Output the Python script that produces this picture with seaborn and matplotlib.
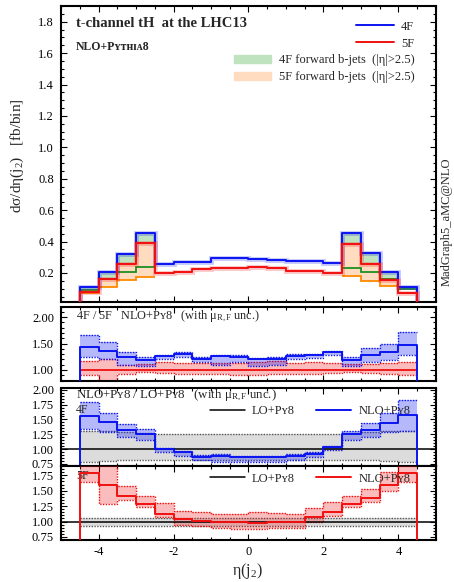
import numpy as np
import pandas as pd
import matplotlib
matplotlib.use("Agg")
import matplotlib.pyplot as plt
from matplotlib.ticker import MultipleLocator, FormatStrFormatter
from matplotlib.lines import Line2D
from matplotlib.patches import Patch
import seaborn as sns

# ---------------------------------------------------------------- data
edges = np.arange(-4.5, 4.5001, 0.5)
centers = 0.5 * (edges[:-1] + edges[1:])

# d sigma / d eta(j2) [fb/bin]
xs_4f = [0.109, 0.208, 0.321, 0.457, 0.255, 0.272, 0.268, 0.294, 0.294,
         0.289, 0.285, 0.277, 0.277, 0.266, 0.457, 0.326, 0.208, 0.113]
xs_5f = [0.079, 0.160, 0.257, 0.389, 0.200, 0.209, 0.223, 0.234, 0.234,
         0.240, 0.234, 0.215, 0.215, 0.202, 0.385, 0.255, 0.155, 0.075]
# contributions with forward b-jets (|eta| > 2.5), outer four bins on each side
fwd_4f_left = [0.093, 0.160, 0.204, 0.240]
fwd_4f_right = [0.234, 0.208, 0.159, 0.098]
fwd_5f_left = [0.070, 0.113, 0.155, 0.176]
fwd_5f_right = [0.181, 0.149, 0.117, 0.070]

# 4F / 5F ratio with scale uncertainties
r45 = [1.43, 1.36, 1.24, 1.18, 1.26, 1.30, 1.20, 1.26, 1.25,
       1.20, 1.21, 1.27, 1.28, 1.33, 1.18, 1.29, 1.34, 1.48]
r45_up = [1.67, 1.52, 1.34, 1.25, 1.28, 1.33, 1.24, 1.29, 1.28,
          1.23, 1.25, 1.31, 1.30, 1.36, 1.24, 1.42, 1.50, 1.71]
r45_dn = [1.24, 1.20, 1.10, 1.07, 1.20, 1.24, 1.15, 1.10, 1.15,
          1.08, 1.10, 1.20, 1.22, 1.28, 1.07, 1.15, 1.18, 1.28]
r5_up = [1.16, 1.20, 1.10, 1.12, 1.15, 1.14, 1.14, 1.14, 1.14,
         1.15, 1.16, 1.14, 1.15, 1.14, 1.12, 1.12, 1.14, 1.15]
r5_dn = [0.91, 0.78, 0.93, 0.96, 0.94, 0.93, 0.93, 0.92, 0.91,
         0.91, 0.92, 0.92, 0.93, 0.94, 0.96, 0.94, 0.92, 0.91]

# NLO+Py8 / LO+Py8, 4F
k4 = [1.555, 1.45, 1.325, 1.26, 1.00, 0.95, 0.875, 0.89, 0.875,
      0.875, 0.875, 0.89, 0.92, 1.04, 1.25, 1.33, 1.44, 1.58]
k4_up = [1.80, 1.61, 1.42, 1.34, 1.02, 0.97, 0.90, 0.91, 0.89,
         0.89, 0.89, 0.91, 0.95, 1.06, 1.31, 1.44, 1.61, 1.82]
k4_dn = [1.34, 1.29, 1.20, 1.15, 0.96, 0.89, 0.81, 0.79, 0.79,
         0.79, 0.79, 0.81, 0.86, 0.99, 1.15, 1.20, 1.29, 1.31]
lo4_up = [1.31, 1.30, 1.29, 1.27, 1.26, 1.26, 1.25, 1.25, 1.25,
          1.25, 1.25, 1.25, 1.26, 1.26, 1.27, 1.29, 1.30, 1.31]
lo4_dn = [0.79, 0.80, 0.81, 0.81, 0.82, 0.82, 0.82, 0.82, 0.82,
          0.82, 0.82, 0.82, 0.82, 0.82, 0.81, 0.81, 0.80, 0.79]

# NLO+Py8 / LO+Py8, 5F
k5 = [1.79, 1.60, 1.41, 1.28, 1.12, 1.04, 1.01, 0.985, 0.985,
      0.97, 0.985, 0.985, 1.08, 1.16, 1.28, 1.38, 1.60, 1.79]
k5_up = [2.00, 2.00, 1.57, 1.42, 1.30, 1.17, 1.15, 1.12, 1.12,
         1.15, 1.13, 1.12, 1.22, 1.31, 1.42, 1.53, 1.80, 2.00]
k5_dn = [1.64, 1.28, 1.35, 1.23, 1.08, 0.945, 0.93, 0.90, 0.875,
         0.875, 0.90, 0.90, 1.00, 1.09, 1.23, 1.31, 1.50, 1.64]
lo5_up = [1.05] * 18
lo5_dn = [0.92] * 18

# ---------------------------------------------------------------- style
sns.set_theme(style="ticks")
plt.rcParams["font.family"] = ["Liberation Serif", "DejaVu Serif"]
plt.rcParams["mathtext.fontset"] = "custom"
plt.rcParams["mathtext.rm"] = "Liberation Serif"
plt.rcParams["mathtext.it"] = "Liberation Serif:italic"
plt.rcParams["mathtext.bf"] = "Liberation Serif:bold"

BLUE, RED = "#0a14f0", "#f01010"
GREEN, ORANGE = "#1f8f1f", "#ff8a00"

W_PX, H_PX = 454, 582
fig = plt.figure(figsize=(W_PX / 100, H_PX / 100), dpi=100)


def add_ax(top_px, bot_px, left_px=61, right_px=436):
    return fig.add_axes([left_px / W_PX, 1 - bot_px / H_PX,
                         (right_px - left_px) / W_PX, (bot_px - top_px) / H_PX])


ax0 = add_ax(6, 302)
ax1 = add_ax(306.5, 380.5)
ax2 = add_ax(388, 466)
ax3 = add_ax(466, 540)

bin_list = [float(e) for e in edges]


def hist_line(ax, vals, color, lw=1.4, halo=False, z=5):
    if halo:
        ax.stairs(vals, edges, color=color, lw=3.4, alpha=0.25, zorder=z - 0.5)
    df = pd.DataFrame({"eta": centers, "w": vals})
    sns.histplot(data=df, x="eta", weights="w", bins=bin_list, element="step",
                 fill=False, color=color, linewidth=lw, ax=ax, zorder=z)
    # closing edges down to the baseline
    ax.vlines([edges[0], edges[-1]], 0, [vals[0], vals[-1]], color=color,
              lw=lw, zorder=z)


def band(ax, up, dn, fc, ec, alpha=1.0, z=2):
    ax.stairs(up, edges, baseline=dn, fill=True, color=fc, alpha=alpha,
              lw=0, zorder=z)
    ax.stairs(up, edges, baseline=None, color=ec, lw=1.0, ls=(0, (1, 1)),
              zorder=z + 0.1)
    ax.stairs(dn, edges, baseline=None, color=ec, lw=1.0, ls=(0, (1, 1)),
              zorder=z + 0.1)


# ---------------------------------------------------------------- main panel
for sl, f4, f5 in [(slice(0, 4), fwd_4f_left, fwd_5f_left),
                   (slice(14, 18), fwd_4f_right, fwd_5f_right)]:
    e = edges[sl.start:sl.stop + 1]
    ax0.stairs(np.array(xs_4f)[sl], e, baseline=f4, fill=True,
               color="#bfe3bf", lw=0, zorder=1)
    ax0.stairs(np.array(xs_5f)[sl], e, baseline=f5, fill=True,
               color="#ffdcc0", lw=0, zorder=1.5)
    ax0.stairs(f4, e, baseline=None, color=GREEN, lw=1.3, zorder=3)
    ax0.stairs(f5, e, baseline=None, color=ORANGE, lw=1.3, zorder=3)

hist_line(ax0, xs_4f, BLUE, halo=True, z=5)
hist_line(ax0, xs_5f, RED, halo=True, z=6)
ax0.set_ylim(0.015, 1.9)
ax0.yaxis.set_major_locator(MultipleLocator(0.2))
ax0.yaxis.set_minor_locator(MultipleLocator(0.05))
ax0.yaxis.set_major_formatter(FormatStrFormatter("%.1f"))

ax0.text(0.04, 0.94, "t-channel tH  at the LHC13", transform=ax0.transAxes,
         fontsize=10.5, fontweight="bold", va="center", ha="left")
ax0.text(0.04, 0.862, "NLO+Pʏᴛʜɪᴀ8", transform=ax0.transAxes,
         fontsize=8.5, fontweight="bold", va="center", ha="left",
         family=["Liberation Serif", "DejaVu Serif"])

leg1 = ax0.legend(handles=[Line2D([], [], color=BLUE, lw=1.4),
                           Line2D([], [], color=RED, lw=1.4)],
                  labels=["4F", "5F"], loc="upper right",
                  bbox_to_anchor=(0.942, 0.95), frameon=False, fontsize=9,
                  handlelength=3.0, handletextpad=0.6, labelspacing=0.4,
                  borderpad=0, borderaxespad=0)
ax0.add_artist(leg1)
ax0.legend(handles=[Patch(color="#bfe3bf"), Patch(color="#ffdcc0")],
           labels=["4F forward b-jets  (|η|>2.5)", "5F forward b-jets  (|η|>2.5)"],
           loc="upper right", bbox_to_anchor=(0.942, 0.838), frameon=False,
           fontsize=9, handlelength=3.0, handleheight=0.6,
           handletextpad=0.6, labelspacing=0.4, borderpad=0, borderaxespad=0)

# ---------------------------------------------------------------- 4F / 5F
band(ax1, r5_up, r5_dn, RED, RED, alpha=0.28, z=2)
band(ax1, r45_up, r45_dn, BLUE, BLUE, alpha=0.3, z=3)
ax1.stairs([1.0] * 18, edges, baseline=None, color=RED, lw=1.3, zorder=4)
hist_line(ax1, r45, BLUE, z=5)
ax1.set_ylim(0.8, 2.2)
ax1.yaxis.set_major_locator(MultipleLocator(0.5))
ax1.yaxis.set_minor_locator(MultipleLocator(0.1))
ax1.text(0.04, 0.86, "4F / 5F   NLO+Pʏ8   (with μ$_\\mathrm{R,F}$ unc.)",
         transform=ax1.transAxes, fontsize=8.8, va="center", ha="left")

# ---------------------------------------------------------------- NLO/LO 4F
band(ax2, lo4_up, lo4_dn, "#dcdcdc", "#555555", z=1)
band(ax2, k4_up, k4_dn, BLUE, BLUE, alpha=0.3, z=3)
ax2.axhline(1.0, color="black", lw=1.1, zorder=4)
hist_line(ax2, k4, BLUE, z=5)
ax2.set_ylim(0.716, 2.03)
ax2.yaxis.set_major_locator(MultipleLocator(0.25))
ax2.yaxis.set_minor_locator(MultipleLocator(0.05))
ax2.text(0.04, 0.90, "NLO+Pʏ8 / LO+Pʏ8   (with μ$_\\mathrm{R,F}$ unc.)",
         transform=ax2.transAxes, fontsize=9.3, va="center", ha="left")
ax2.text(0.04, 0.72, "4F", transform=ax2.transAxes, fontsize=8.5,
         va="center", ha="left")
ax2.legend(handles=[Line2D([], [], color="black", lw=1.1),
                    Line2D([], [], color=BLUE, lw=1.4)],
           labels=["LO+Pʏ8", "NLO+Pʏ8"], loc="center right",
           bbox_to_anchor=(0.933, 0.70), ncol=2, frameon=False, fontsize=9,
           handlelength=2.8, handletextpad=0.6, columnspacing=1.7,
           borderpad=0, borderaxespad=0)

# ---------------------------------------------------------------- NLO/LO 5F
band(ax3, lo5_up, lo5_dn, "#dcdcdc", "#555555", z=1)
band(ax3, k5_up, k5_dn, RED, RED, alpha=0.28, z=3)
ax3.axhline(1.0, color="black", lw=1.1, zorder=4)
hist_line(ax3, k5, RED, z=5)
ax3.set_ylim(0.70, 1.90)
ax3.yaxis.set_major_locator(MultipleLocator(0.25))
ax3.yaxis.set_minor_locator(MultipleLocator(0.05))
ax3.text(0.04, 0.86, "5F", transform=ax3.transAxes, fontsize=8.5,
         va="center", ha="left")
ax3.legend(handles=[Line2D([], [], color="black", lw=1.1),
                    Line2D([], [], color=RED, lw=1.4)],
           labels=["LO+Pʏ8", "NLO+Pʏ8"], loc="center right",
           bbox_to_anchor=(0.933, 0.83), ncol=2, frameon=False, fontsize=9,
           handlelength=2.8, handletextpad=0.6, columnspacing=1.7,
           borderpad=0, borderaxespad=0)

# ---------------------------------------------------------------- common axes styling
for ax in (ax0, ax1, ax2, ax3):
    ax.set_xlim(-5, 5)
    ax.xaxis.set_major_locator(MultipleLocator(2))
    ax.xaxis.set_minor_locator(MultipleLocator(0.5))
    ax.set_xlabel("")
    ax.set_ylabel("")
    for s in ax.spines.values():
        s.set_visible(True)
        s.set_linewidth(1.5)
        s.set_color("black")
    ax.tick_params(which="both", direction="in", top=True, right=True,
                   colors="black", labelsize=9, pad=5)
    ax.tick_params(which="major", length=4.5, width=0.8)
    ax.tick_params(which="minor", length=2.5, width=0.8)
    if ax is not ax3:
        ax.tick_params(labelbottom=False)
for ax in (ax1, ax2, ax3):
    ax.yaxis.set_major_formatter(FormatStrFormatter("%.2f"))
ax3.tick_params(axis="x", pad=4)
ax3.set_xticks([-4, -2, 0, 2, 4])
ax3.set_xticklabels(["-4", "-2", "0", "2", "4"])

fig.text(17 / W_PX, 1 - 156 / H_PX, "dσ/dη(j$_2$)   [fb/bin]", rotation=90,
         ha="center", va="center", fontsize=11)
fig.text(247 / W_PX, 1 - 571 / H_PX, "η(j$_2$)", ha="center", va="center",
         fontsize=11.5)
fig.text(447 / W_PX, 1 - 222 / H_PX, "MadGraph5_aMC@NLO", rotation=90,
         ha="center", va="center", fontsize=9)

fig.savefig("out.png", dpi=100, facecolor="white")
